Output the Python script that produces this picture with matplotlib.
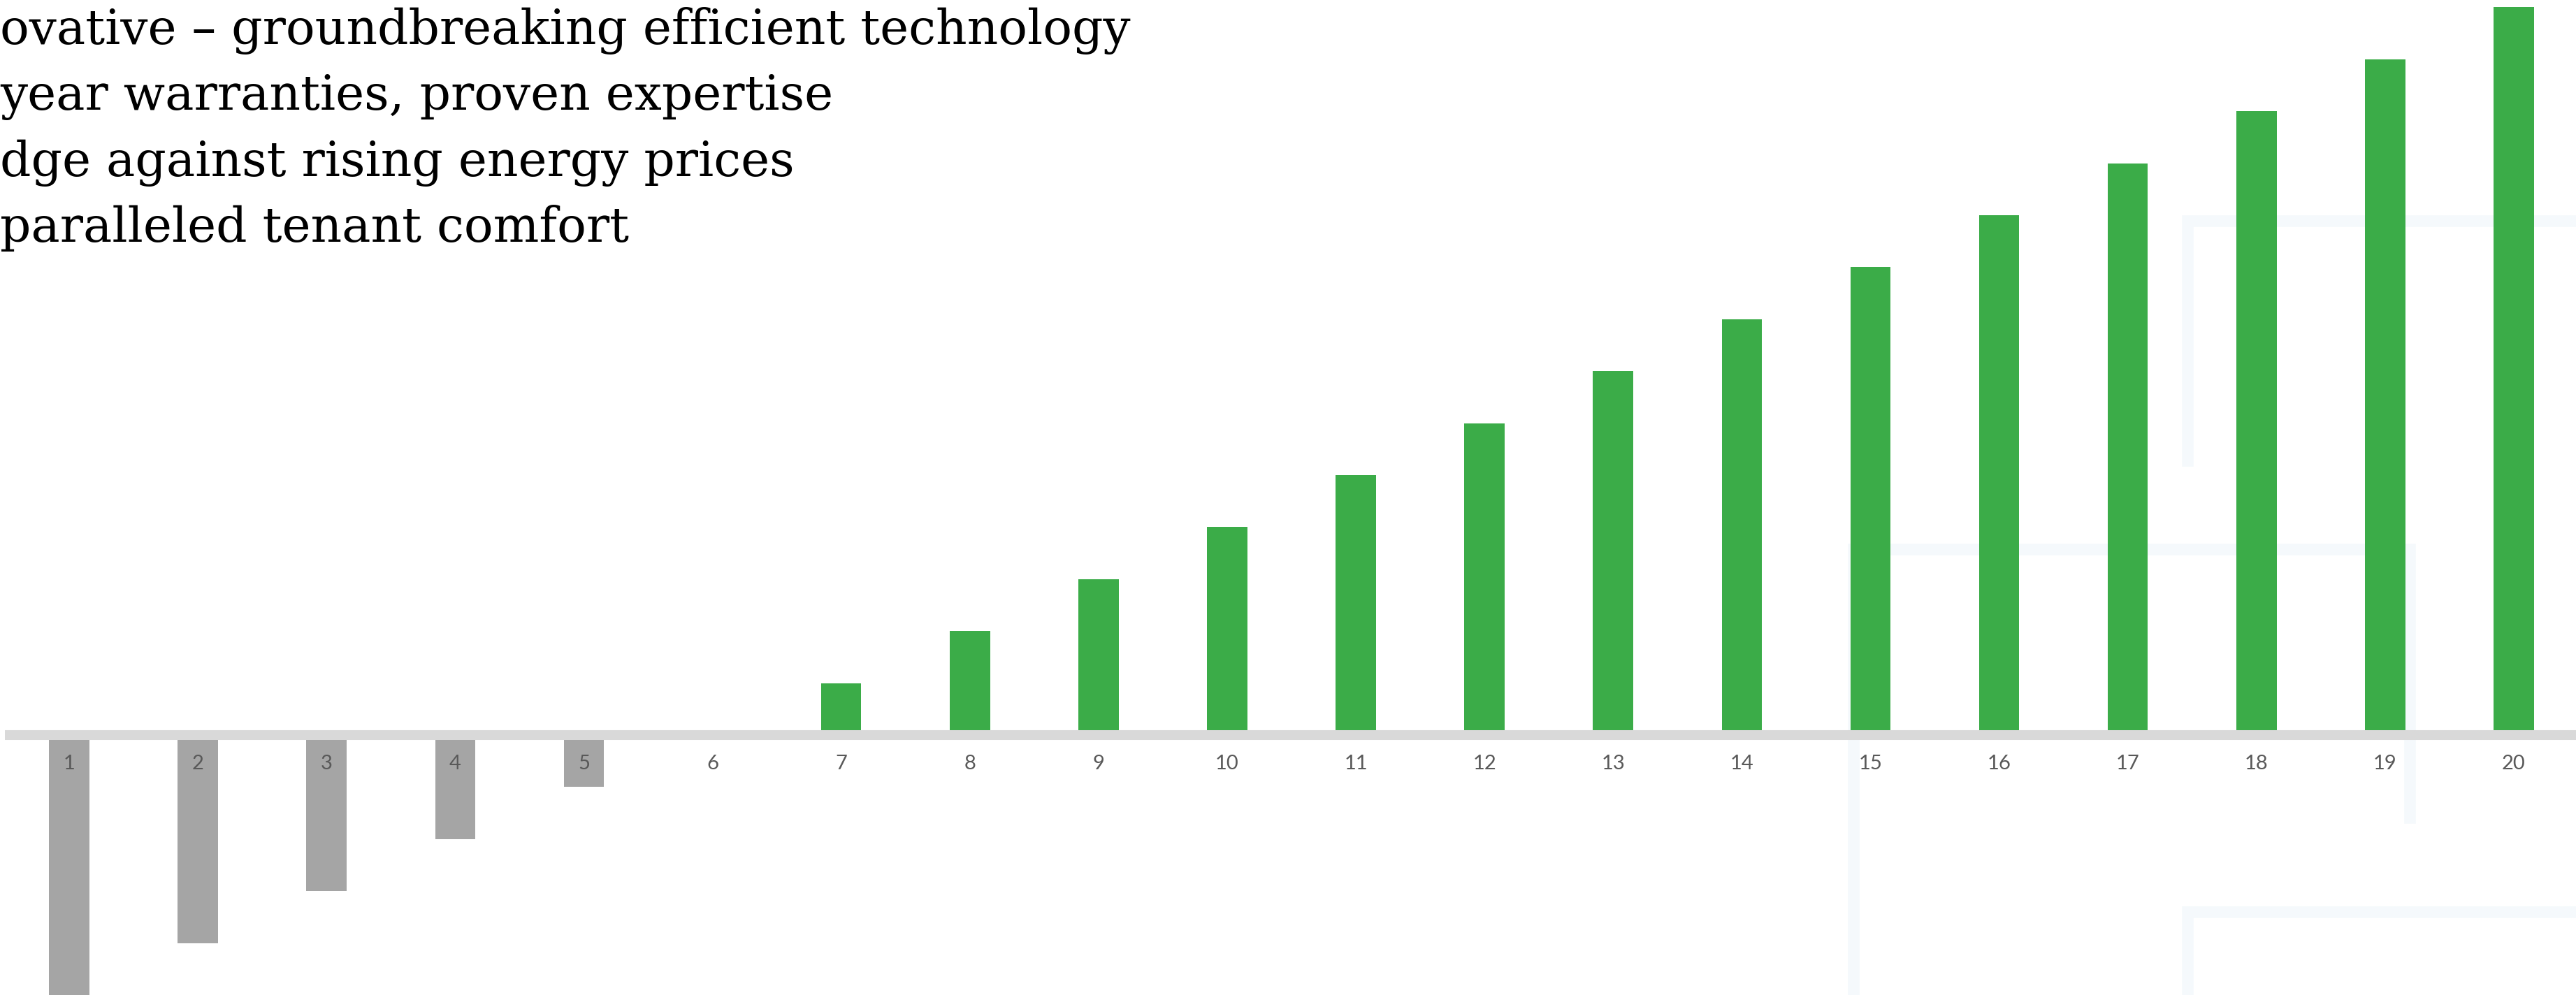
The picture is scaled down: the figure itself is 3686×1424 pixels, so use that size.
import numpy as np
import matplotlib
matplotlib.use("Agg")
import matplotlib.pyplot as plt
from matplotlib.lines import Line2D

# jaren en cumulatieve besparing (willekeurige eenheden, geen y-as zichtbaar)
years = list(range(1, 21))
savings = [-5, -4, -3, -2, -1, 0, 1, 2, 3, 4, 5, 6, 7, 8, 9, 10, 11, 12, 13, 14]
bullets = [
    "ovative \u2013 groundbreaking efficient technology",
    "year warranties, proven expertise",
    "dge against rising energy prices",
    "paralleled tenant comfort",
]

W, H = 3687, 1424
fig = plt.figure(figsize=(W / 100, H / 100), dpi=100)

# vage achtergrondlijnen (decoratie), pixelcoordinaten
bg_lines = [
    [(3130, 659), (3130, 316), (3687, 316)],
    [(2652, 1424), (2652, 786), (3448, 786), (3448, 1170)],
    [(3130, 1424), (3130, 1305), (3687, 1305)],
]
for pts in bg_lines:
    xs = [p[0] / W for p in pts]
    ys = [1 - p[1] / H for p in pts]
    fig.add_artist(Line2D(xs, ys, transform=fig.transFigure, color='#f5f9fc',
                          lw=12, zorder=-5, solid_joinstyle='miter'))

ax = fig.add_axes([7 / W, 0, 3682 / W, 1])
ax.patch.set_visible(False)

colors = ['#a5a5a5' if v < 0 else '#3bac48' for v in savings]
ax.bar(years, savings, width=0.313, color=colors, zorder=1)

ax.set_xlim(0.5, 20.5)
ax.set_ylim(-5, 1052 / 74.4)

for s in ['top', 'left', 'right']:
    ax.spines[s].set_visible(False)
ax.spines['bottom'].set_position(('data', 0))
ax.spines['bottom'].set_color('#d9d9d9')
ax.spines['bottom'].set_linewidth(10.1)
ax.spines['bottom'].set_capstyle('butt')
ax.set_yticks([])
ax.set_xticks(years)
ax.set_xticklabels([str(y) for y in years], fontsize=21, color='#595959',
                   family=['Lato', 'DejaVu Sans'])
ax.tick_params(axis='x', length=0, pad=20)

# tekstregels linksboven, breedte passend gemaakt
size = 50
texts = []
for i, line in enumerate(bullets):
    t = fig.text(0, 1 - (63 + 94.5 * i) / H, line, fontsize=size, family='DejaVu Serif',
                 color='black', va='baseline', ha='left')
    texts.append(t)
fig.canvas.draw()
bb = texts[0].get_window_extent()
size = size * 1620 / bb.width
for t in texts:
    t.set_fontsize(size)

fig.savefig('out.png', dpi=100)
